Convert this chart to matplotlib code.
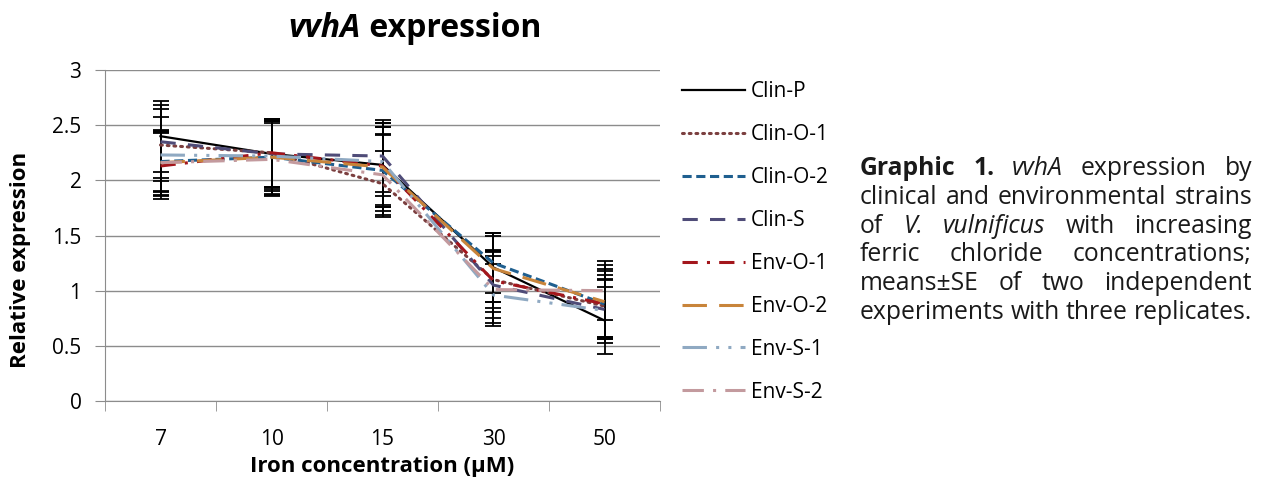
import matplotlib
matplotlib.use("Agg")
import matplotlib.pyplot as plt
import matplotlib.transforms as mtransforms
import numpy as np

plt.rcParams['font.family'] = ['Open Sans', 'DejaVu Sans']

# data
concentrations = ["7", "10", "15", "30", "50"]
strains = ["Clin-P", "Clin-O-1", "Clin-O-2", "Clin-S", "Env-O-1", "Env-O-2", "Env-S-1", "Env-S-2"]

clin_p = [2.40, 2.24, 2.14, 1.21, 0.73]
clin_o1 = [2.32, 2.25, 1.97, 1.10, 0.86]
clin_o2 = [2.17, 2.21, 2.09, 1.25, 0.88]
clin_s = [2.35, 2.24, 2.22, 1.05, 0.83]
env_o1 = [2.13, 2.25, 2.13, 1.09, 0.88]
env_o2 = [2.16, 2.21, 2.12, 1.20, 0.90]
env_s1 = [2.23, 2.22, 2.17, 0.96, 0.82]
env_s2 = [2.16, 2.19, 2.05, 1.01, 1.00]

clin_p_se = [0.32, 0.32, 0.38, 0.31, 0.30]
clin_o1_se = [0.33, 0.31, 0.30, 0.26, 0.28]
clin_o2_se = [0.27, 0.33, 0.33, 0.27, 0.30]
clin_s_se = [0.33, 0.30, 0.33, 0.30, 0.27]
env_o1_se = [0.30, 0.31, 0.35, 0.28, 0.32]
env_o2_se = [0.30, 0.34, 0.40, 0.30, 0.33]
env_s1_se = [0.34, 0.32, 0.31, 0.28, 0.29]
env_s2_se = [0.29, 0.33, 0.36, 0.30, 0.27]

series = [clin_p, clin_o1, clin_o2, clin_s, env_o1, env_o2, env_s1, env_s2]
errors = [clin_p_se, clin_o1_se, clin_o2_se, clin_s_se, env_o1_se, env_o2_se, env_s1_se, env_s2_se]

colors = ['#000000', '#7b3f3f', '#1f5f8f', '#4f4c78', '#a3161c', '#c8843a', '#8fa9c2', '#c39a9e']
styles = ['-', (0, (0.6, 1.6)), (0, (3, 1.5)), (0, (5, 4)), (0, (5, 3, 1, 3)),
          (0, (8, 4)), (0, (8, 3, 1, 3, 1, 3)), (0, (7, 3, 1, 3))]

W, H = 1267, 486
fig = plt.figure(figsize=(W / 100, H / 100), dpi=100)
ax = fig.add_axes([105 / W, (H - 401) / H, 555 / W, 331 / H])

x = np.arange(len(concentrations))

# error bars first (all black, like Excel default)
for vals, err in zip(series, errors):
    ax.errorbar(x, vals, yerr=err, fmt='none', ecolor='black', elinewidth=1.3,
                capsize=6, capthick=1.3, zorder=2)

handles = []
for vals, name, c, ls in zip(series, strains, colors, styles):
    lw = 1.6 if name == "Clin-P" else 2.2
    line, = ax.plot(x, vals, color=c, linestyle=ls, lw=lw, label=name,
                    dash_capstyle='round' if name == "Clin-O-1" else 'butt', zorder=3)
    handles.append(line)

ax.set_xlim(-0.5, len(concentrations) - 0.5)
ax.set_ylim(0, 3)
ax.set_yticks(np.arange(0, 3.01, 0.5))
ax.set_yticklabels(["0", "0.5", "1", "1.5", "2", "2.5", "3"])
ax.set_xticks(x)
ax.set_xticklabels(concentrations)
ax.set_xticks(np.arange(-0.5, len(concentrations)), minor=True)
ax.tick_params(axis='x', which='major', length=0, pad=20, labelsize=15)
ax.tick_params(axis='x', which='minor', length=7, color='#8c8c8c', direction='out')
ax.tick_params(axis='y', length=7, color='#8c8c8c', pad=10, labelsize=15)
ax.yaxis.grid(True, color='#8c8c8c', lw=1)
ax.set_axisbelow(True)
for s in ['top', 'right']:
    ax.spines[s].set_visible(False)
for s in ['left', 'bottom']:
    ax.spines[s].set_color('#8c8c8c')

renderer = fig.canvas.get_renderer()
ident = mtransforms.IdentityTransform()

# title: bold italic gene name + bold word, centred on the chart area
t1 = fig.text(0, H - 28, "vvhA", fontsize=23, fontweight='bold', fontstyle='italic',
              ha='left', va='center', transform=ident)
t2 = fig.text(0, H - 28, " expression", fontsize=23, fontweight='bold',
              ha='left', va='center', transform=ident)
w1 = t1.get_window_extent(renderer).width
w2 = t2.get_window_extent(renderer).width
t1.set_x(415 - (w1 + w2) / 2)
t2.set_x(415 - (w1 + w2) / 2 + w1)

fig.text(21 / W, 1 - 260 / H, "Relative expression", fontsize=16, fontweight='bold',
         rotation=90, ha='center', va='center')
fig.text(382 / W, 1 - 466 / H, "Iron concentration (µM)", fontsize=16, fontweight='bold',
         ha='center', va='center')

fig.legend(handles=handles, loc='center left', bbox_to_anchor=(682 / W, 1 - 242 / H),
           frameon=False, fontsize=15, handlelength=3.0, handletextpad=0.3,
           labelspacing=1.05, borderpad=0, borderaxespad=0)

# caption, justified word by word
caption = [
    [("Graphic", 'bold', 'normal'), ("1.", 'bold', 'normal'), ("vvhA", 'normal', 'italic'),
     ("expression", 'normal', 'normal'), ("by", 'normal', 'normal')],
    [("clinical", 'normal', 'normal'), ("and", 'normal', 'normal'),
     ("environmental", 'normal', 'normal'), ("strains", 'normal', 'normal')],
    [("of", 'normal', 'normal'), ("V.", 'normal', 'italic'), ("vulnificus", 'normal', 'italic'),
     ("with", 'normal', 'normal'), ("increasing", 'normal', 'normal')],
    [("ferric", 'normal', 'normal'), ("chloride", 'normal', 'normal'),
     ("concentrations;", 'normal', 'normal')],
    [("means±SE", 'normal', 'normal'), ("of", 'normal', 'normal'), ("two", 'normal', 'normal'),
     ("independent", 'normal', 'normal')],
    [("experiments", 'normal', 'normal'), ("with", 'normal', 'normal'), ("three", 'normal', 'normal'),
     ("replicates.", 'normal', 'normal')],
]
cap_left, cap_right = 860, 1252
base0, step = 175, 28.8
cap_size = 17.8

sp = fig.text(0, 0, "a a", fontsize=cap_size, transform=ident)
sa = fig.text(0, 0, "aa", fontsize=cap_size, transform=ident)
space_w = sp.get_window_extent(renderer).width - sa.get_window_extent(renderer).width
sp.remove()
sa.remove()

for i, words in enumerate(caption):
    yb = H - (base0 + i * step)
    texts = []
    for w, weight, style in words:
        tx = fig.text(0, yb, w, fontsize=cap_size, fontweight=weight, fontstyle=style,
                      ha='left', va='baseline', color='#1a1a1a', transform=ident)
        texts.append(tx)
    widths = [tx.get_window_extent(renderer).width for tx in texts]
    natural = sum(widths) + space_w * (len(words) - 1)
    if i < len(caption) - 1 or natural > cap_right - cap_left:
        gap = (cap_right - cap_left - sum(widths)) / (len(words) - 1)
    else:
        gap = space_w
    xpos = cap_left
    for tx, wd in zip(texts, widths):
        tx.set_x(xpos)
        xpos += wd + gap

fig.savefig("out.png", dpi=100)
